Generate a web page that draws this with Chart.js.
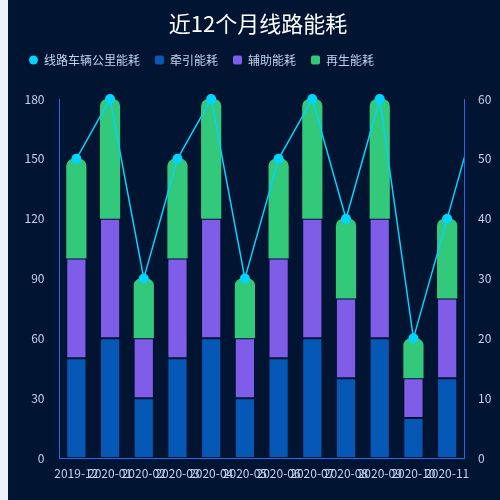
<!DOCTYPE html>
<html>
<head>
<meta charset="utf-8">
<script src="https://cdn.jsdelivr.net/npm/chart.js@4"></script>
<style>
  html, body { margin: 0; padding: 0; background: #eef1f6; }
  #wrap { position: absolute; left: 8px; top: 0; width: 500px; height: 500px; background: #011532; }
  canvas { display: block; }
</style>
</head>
<body>
<div id="wrap"><canvas id="c" width="500" height="500"></canvas></div>
<script>
const months = ['2019-12','2020-01','2020-02','2020-03','2020-04','2020-05','2020-06','2020-07','2020-08','2020-09','2020-10','2020-11'];
const traction = [50, 60, 30, 50, 60, 30, 50, 60, 40, 60, 20, 40];
const auxiliary = [50, 60, 30, 50, 60, 30, 50, 60, 40, 60, 20, 40];
const regen = [50, 60, 30, 50, 60, 30, 50, 60, 40, 60, 20, 40];
const lineKm = [50, 60, 30, 50, 60, 30, 50, 60, 40, 60, 20, 40, 60];
const leftTicks = [0, 30, 60, 90, 120, 150, 180];
const rightTicks = [0, 10, 20, 30, 40, 50, 60];
const seriesNames = ['线路车辆公里能耗', '牵引能耗', '辅助能耗', '再生能耗'];
const titleText = '近12个月线路能耗';

const C_LINE = '#00d4ff', C_BLUE = '#0658b6', C_PURPLE = '#7f5de9', C_GREEN = '#33c97b';
const TXT = '#c3d2ea';
Chart.defaults.font.family = "'Noto Sans CJK SC', 'Noto Sans', sans-serif";
Chart.defaults.font.size = 12;

const legendSpacer = {
  id: 'legendSpacer',
  beforeInit(chart) {
    const orig = chart.legend.fit;
    chart.legend.fit = function () { orig.bind(chart.legend)(); this.height += 23; };
  }
};

const segBorder = 'rgba(0,20,50,0.25)';
const barCommon = { order: 1, grouped: false, borderSkipped: false, barPercentage: 0.6, categoryPercentage: 1, borderColor: segBorder };
new Chart(document.getElementById('c'), {
  type: 'bar',
  data: {
    labels: months,
    datasets: [
      { type: 'line', label: seriesNames[0], order: 0, xAxisID: 'xl', yAxisID: 'y1',
        data: lineKm.map((v, i) => ({ x: i, y: v })),
        borderColor: C_LINE, backgroundColor: C_LINE, borderWidth: 1.5,
        pointRadius: 5, pointHoverRadius: 5, pointBackgroundColor: C_LINE, pointBorderWidth: 0,
        tension: 0, clip: { left: 0, right: 0, top: 10, bottom: 10 } },
      Object.assign({ label: seriesNames[1], data: traction, backgroundColor: C_BLUE, borderWidth: 1 }, barCommon),
      Object.assign({ label: seriesNames[2], data: auxiliary, backgroundColor: C_PURPLE, borderWidth: 1 }, barCommon),
      Object.assign({ label: seriesNames[3], data: regen, backgroundColor: C_GREEN, borderWidth: 0,
        borderRadius: { topLeft: 7, topRight: 7, bottomLeft: 0, bottomRight: 0 } }, barCommon)
    ]
  },
  options: {
    responsive: false,
    animation: false,
    devicePixelRatio: 1,
    layout: { padding: { left: 6, top: 0, right: 6, bottom: 0 } },
    plugins: {
      title: { display: true, text: titleText, color: '#ffffff',
        font: { size: 22, weight: 'normal' }, padding: { top: 10, bottom: 2.6 } },
      legend: {
        display: true, position: 'top', align: 'start',
        labels: {
          color: TXT, boxWidth: 9, boxHeight: 9, padding: 15, font: { size: 12 },
          generateLabels(chart) {
            const items = Chart.defaults.plugins.legend.labels.generateLabels(chart);
            const cols = { 0: C_LINE, 1: C_BLUE, 2: C_PURPLE, 3: C_GREEN };
            items.forEach(it => {
              it.fillStyle = cols[it.datasetIndex];
              it.strokeStyle = cols[it.datasetIndex];
              it.lineWidth = 0;
              it.borderRadius = it.datasetIndex === 0 ? 4.5 : 2;
              it.fontColor = TXT;
            });
            return items;
          }
        }
      },
      tooltip: { enabled: false }
    },
    scales: {
      x: { stacked: true, offset: true,
        grid: { display: false, drawTicks: false },
        border: { display: true, color: '#1a6cf5', width: 1 },
        ticks: { color: TXT, padding: 8, autoSkip: false, maxRotation: 0, minRotation: 0, font: { size: 12 } },
        afterFit(s) { s.height = 42; } },
      xl: { type: 'linear', display: false, offset: false, min: -0.5, max: 11.5,
        grid: { offset: false } },
      y: { stacked: true, position: 'left', min: 0, max: 180,
        grid: { display: false, drawTicks: false },
        border: { display: true, color: '#1a6cf5', width: 1 },
        afterBuildTicks(s) { s.ticks = leftTicks.map(v => ({ value: v })); },
        ticks: { color: TXT, padding: 15, font: { size: 12 } },
        afterFit(s) { s.width = 45.5; } },
      y1: { position: 'right', min: 0, max: 60,
        grid: { display: false, drawTicks: false },
        border: { display: true, color: '#1a6cf5', width: 1 },
        afterBuildTicks(s) { s.ticks = rightTicks.map(v => ({ value: v })); },
        ticks: { color: TXT, padding: 14, font: { size: 12 } },
        afterFit(s) { s.width = 38; } }
    }
  },
  plugins: [legendSpacer]
});
</script>
</body>
</html>
